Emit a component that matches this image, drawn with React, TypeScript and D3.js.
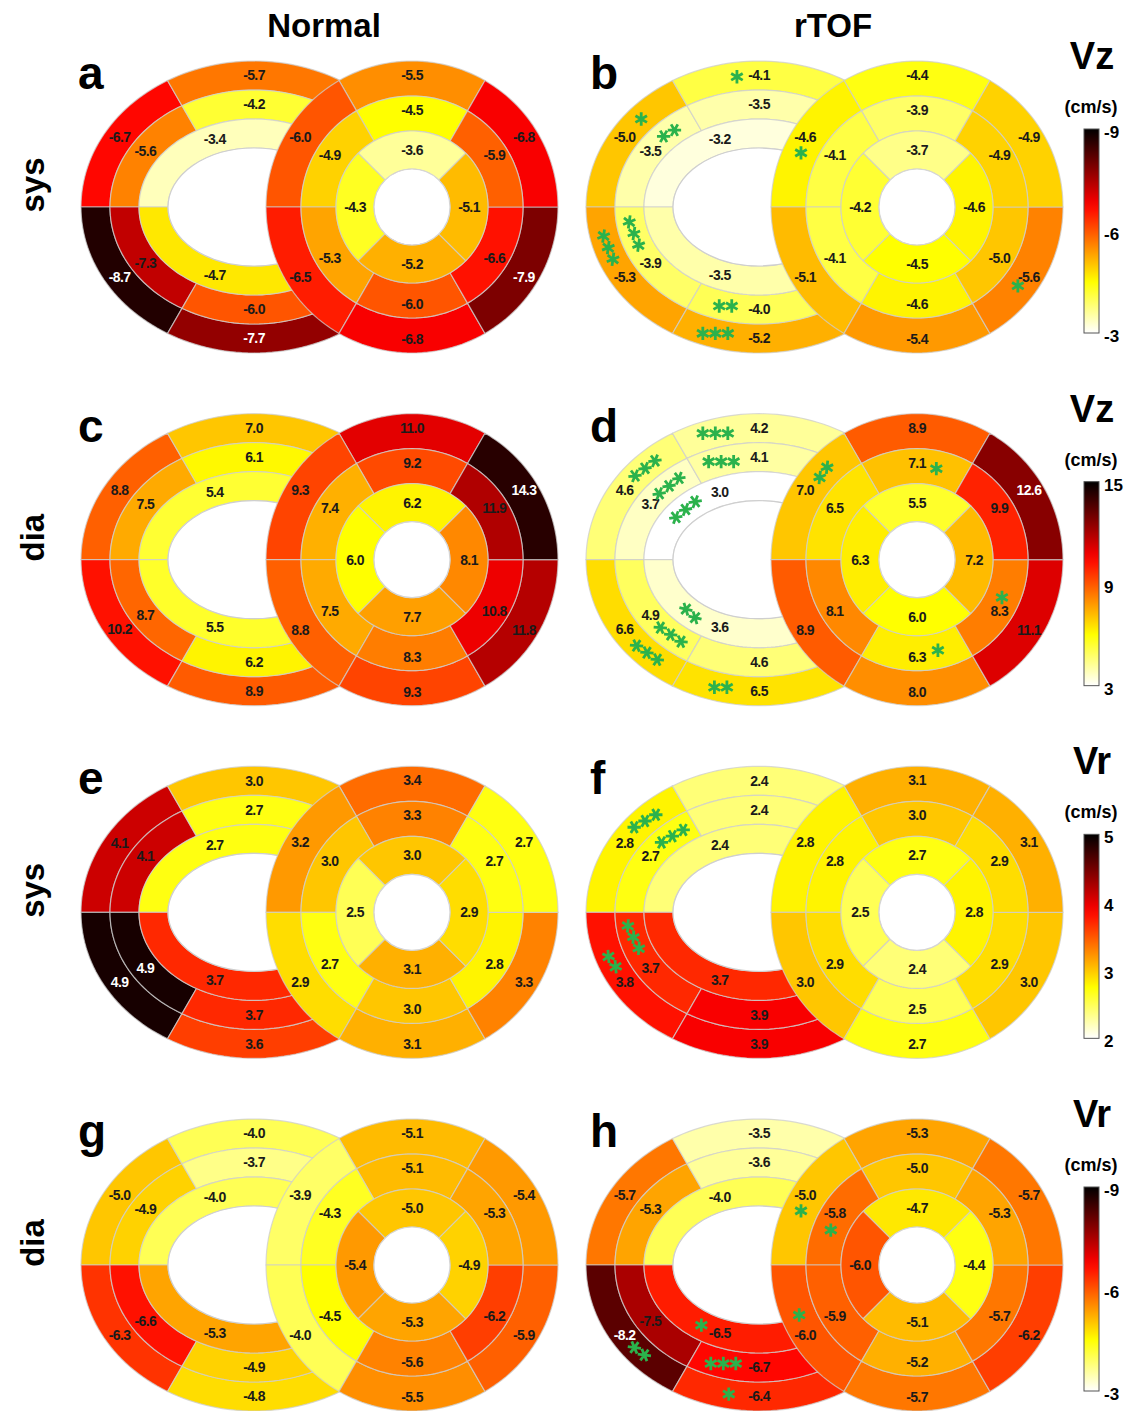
import React from "react";
import * as d3 from "d3";

// RV order: outer top-left, outer top, mid top-left, mid top, inner top,
//           outer bottom-left, outer bottom, mid bottom-left, mid bottom, inner bottom
// LV order: basal top, upper-left, lower-left, bottom, lower-right, upper-right,
//           mid (same six), apical top, left, bottom, right
const aRV = [-6.7, -5.7, -5.6, -4.2, -3.4, -8.7, -7.7, -7.3, -6.0, -4.7];
const aLV = [-5.5, -6.0, -6.5, -6.8, -7.9, -6.8, -4.5, -4.9, -5.3, -6.0, -6.6, -5.9, -3.6, -4.3, -5.2, -5.1];
const bRV = [-5.0, -4.1, -3.5, -3.5, -3.2, -5.3, -5.2, -3.9, -4.0, -3.5];
const bLV = [-4.4, -4.6, -5.1, -5.4, -5.6, -4.9, -3.9, -4.1, -4.1, -4.6, -5.0, -4.9, -3.7, -4.2, -4.5, -4.6];
const cRV = [8.8, 7.0, 7.5, 6.1, 5.4, 10.2, 8.9, 8.7, 6.2, 5.5];
const cLV = [11.0, 9.3, 8.8, 9.3, 11.8, 14.3, 9.2, 7.4, 7.5, 8.3, 10.8, 11.9, 6.2, 6.0, 7.7, 8.1];
const dRV = [4.6, 4.2, 3.7, 4.1, 3.0, 6.6, 6.5, 4.9, 4.6, 3.6];
const dLV = [8.9, 7.0, 8.9, 8.0, 11.1, 12.6, 7.1, 6.5, 8.1, 6.3, 8.3, 9.9, 5.5, 6.3, 6.0, 7.2];
const eRV = [4.1, 3.0, 4.1, 2.7, 2.7, 4.9, 3.6, 4.9, 3.7, 3.7];
const eLV = [3.4, 3.2, 2.9, 3.1, 3.3, 2.7, 3.3, 3.0, 2.7, 3.0, 2.8, 2.7, 3.0, 2.5, 3.1, 2.9];
const fRV = [2.8, 2.4, 2.7, 2.4, 2.4, 3.8, 3.9, 3.7, 3.9, 3.7];
const fLV = [3.1, 2.8, 3.0, 2.7, 3.0, 3.1, 3.0, 2.8, 2.9, 2.5, 2.9, 2.9, 2.7, 2.5, 2.4, 2.8];
const gRV = [-5.0, -4.0, -4.9, -3.7, -4.0, -6.3, -4.8, -6.6, -4.9, -5.3];
const gLV = [-5.1, -3.9, -4.0, -5.5, -5.9, -5.4, -5.1, -4.3, -4.5, -5.6, -6.2, -5.3, -5.0, -5.4, -5.3, -4.9];
const hRV = [-5.7, -3.5, -5.3, -3.6, -4.0, -8.2, -6.4, -7.5, -6.7, -6.5];
const hLV = [-5.3, -5.0, -6.0, -5.7, -6.2, -5.7, -5.0, -5.8, -5.9, -5.2, -5.7, -5.3, -4.7, -6.0, -5.1, -4.4];

// significance asterisks: ring, angle in that ring (deg), how many, tilt of the group
type Star = { ring: string; t: number; n: number; rot: number };
const noStars: Star[] = [];
const bStars: Star[] = [
  { ring: "rvOuter", t: 98, n: 1, rot: 0 },
  { ring: "rvOuter", t: 138, n: 1, rot: 0 },
  { ring: "rvMid", t: 134, n: 2, rot: -30 },
  { ring: "lvBasal", t: 155, n: 1, rot: 0 },
  { ring: "rvOuter", t: -162, n: 3, rot: 68 },
  { ring: "rvMid", t: -165, n: 3, rot: 68 },
  { ring: "rvMid", t: -105, n: 2, rot: 0 },
  { ring: "rvOuter", t: -106, n: 3, rot: 0 },
  { ring: "lvBasal", t: -38, n: 1, rot: 0 },
];
const dStars: Star[] = [
  { ring: "rvOuter", t: 106, n: 3, rot: 0 },
  { ring: "rvMid", t: 107, n: 3, rot: 0 },
  { ring: "rvOuter", t: 136, n: 3, rot: -37 },
  { ring: "rvMid", t: 134, n: 3, rot: -38 },
  { ring: "rvInner", t: 137, n: 3, rot: -39 },
  { ring: "lvBasal", t: 137, n: 2, rot: -54 },
  { ring: "lvMid", t: 78, n: 1, rot: 0 },
  { ring: "lvMid", t: -24, n: 1, rot: 0 },
  { ring: "lvMid", t: -77, n: 1, rot: 0 },
  { ring: "rvInner", t: -133, n: 2, rot: 43 },
  { ring: "rvMid", t: -133, n: 3, rot: 34 },
  { ring: "rvOuter", t: -135, n: 3, rot: 34 },
  { ring: "rvOuter", t: -104, n: 2, rot: 0 },
];
const fStars: Star[] = [
  { ring: "rvOuter", t: 136, n: 3, rot: -30 },
  { ring: "rvMid", t: 132, n: 3, rot: -30 },
  { ring: "rvMid", t: -166, n: 3, rot: 64 },
  { ring: "rvOuter", t: -158, n: 2, rot: 55 },
];
const hStars: Star[] = [
  { ring: "lvBasal", t: 155, n: 1, rot: 0 },
  { ring: "lvMid", t: 158, n: 1, rot: 0 },
  { ring: "lvBasal", t: 203, n: 1, rot: 0 },
  { ring: "rvInner", t: -125, n: 1, rot: 0 },
  { ring: "rvMid", t: -106, n: 3, rot: 0 },
  { ring: "rvOuter", t: -101, n: 1, rot: 0 },
  { ring: "rvOuter", t: -139, n: 2, rot: 37 },
];

const columns = ["Normal", "rTOF"];
const rowPhase = ["sys", "dia", "sys", "dia"];
const rowComp = ["Vz", "Vz", "Vr", "Vr"];
const rowDomain: [number, number][] = [[-3, -9], [3, 15], [2, 5], [-3, -9]];
const rowTicks = [[-9, -6, -3], [15, 9, 3], [5, 4, 3, 2], [-9, -6, -3]];

const panels = [
  { id: "a", row: 0, col: 0, rv: aRV, lv: aLV, stars: noStars },
  { id: "b", row: 0, col: 1, rv: bRV, lv: bLV, stars: bStars },
  { id: "c", row: 1, col: 0, rv: cRV, lv: cLV, stars: noStars },
  { id: "d", row: 1, col: 1, rv: dRV, lv: dLV, stars: dStars },
  { id: "e", row: 2, col: 0, rv: eRV, lv: eLV, stars: noStars },
  { id: "f", row: 2, col: 1, rv: fRV, lv: fLV, stars: fStars },
  { id: "g", row: 3, col: 0, rv: gRV, lv: gLV, stars: noStars },
  { id: "h", row: 3, col: 1, rv: hRV, lv: hLV, stars: hStars },
];

const W = 1141;
const H = 1411;
const FONT = "'Liberation Sans', Arial, Helvetica, sans-serif";
const rowY = d3.scaleLinear().domain([0, 3]).range([207, 1265]);
const colX = d3.scaleLinear().domain([0, 1]).range([412, 917]); // LV centre
const RV_SHIFT = 158;
const RV_R: [number, number][] = [[173, 146], [144, 117], [115, 88], [86, 59]];
const LV_R = [146, 111, 76, 38];
const LV_LABEL_R = [132, 97, 57];

const RV_SEG = [
  { ring: 0, t0: 120, t1: 180, lt: 148 },
  { ring: 0, t0: 0, t1: 120, lt: 90 },
  { ring: 1, t0: 120, t1: 180, lt: 147 },
  { ring: 1, t0: 0, t1: 120, lt: 90 },
  { ring: 2, t0: 0, t1: 180, lt: 113 },
  { ring: 0, t0: 180, t1: 240, lt: 212 },
  { ring: 0, t0: 240, t1: 360, lt: 270 },
  { ring: 1, t0: 180, t1: 240, lt: 213 },
  { ring: 1, t0: 240, t1: 360, lt: 270 },
  { ring: 2, t0: 180, t1: 360, lt: 247 },
];

const six = [90, 150, 210, 270, 330, 30];
const sixLabel = [90, 148, 212, 270, 328, 32];
const LV_SEG = [
  ...six.map((c, i) => ({ ring: 0, t0: c - 30, t1: c + 30, lt: sixLabel[i] })),
  ...six.map((c, i) => ({ ring: 1, t0: c - 30, t1: c + 30, lt: sixLabel[i] })),
  ...[90, 180, 270, 0].map((c) => ({ ring: 2, t0: c - 45, t1: c + 45, lt: c })),
];

const rad = (d: number) => (d * Math.PI) / 180;

function hot(t: number) {
  const u = 1 - Math.max(0, Math.min(1, t));
  const r = Math.min(1, u / 0.375);
  const g = Math.max(0, Math.min(1, (u - 0.375) / 0.375));
  const b = Math.max(0, Math.min(1, (u - 0.75) / 0.25));
  return d3.rgb(r * 255, g * 255, b * 255).formatHex();
}

const line = d3.line().curve(d3.curveLinearClosed);

function sector(cx: number, cy: number, inner: [number, number], outer: [number, number], t0: number, t1: number) {
  const steps = Math.max(6, Math.ceil(Math.abs(t1 - t0) / 2));
  const ts = d3.range(steps + 1).map((i) => t0 + ((t1 - t0) * i) / steps);
  const out = ts.map((t) => [cx + outer[0] * Math.cos(rad(t)), cy - outer[1] * Math.sin(rad(t))] as [number, number]);
  const inn = ts
    .slice()
    .reverse()
    .map((t) => [cx + inner[0] * Math.cos(rad(t)), cy - inner[1] * Math.sin(rad(t))] as [number, number]);
  return line([...out, ...inn]) as string;
}

function ringPoint(ring: string, t: number, lvx: number, cy: number): [number, number] {
  const c = Math.cos(rad(t));
  const s = Math.sin(rad(t));
  if (ring.startsWith("lv")) {
    const r = ring === "lvBasal" ? 128 : ring === "lvMid" ? 93 : 57;
    return [lvx + r * c, cy - r * s];
  }
  const k = ring === "rvOuter" ? 0 : ring === "rvMid" ? 1 : 2;
  const a = (RV_R[k][0] + RV_R[k + 1][0]) / 2;
  const b = (RV_R[k][1] + RV_R[k + 1][1]) / 2;
  return [lvx - RV_SHIFT + a * c, cy - b * s];
}

const symbolAst = (d3 as any).symbolAsterisk ?? d3.symbolCross;
const starPath = d3.symbol(symbolAst, 125)() as string;
const STROKE = "rgba(205,205,205,0.75)";

function Panel({ p }: { p: (typeof panels)[number] }) {
  const cy = rowY(p.row);
  const lvx = colX(p.col);
  const rvx = lvx - RV_SHIFT;
  const tScale = d3.scaleLinear().domain(rowDomain[p.row]).range([0, 1]).clamp(true);
  const fmt = (v: number) => v.toFixed(1);
  const txt = (v: number) => (tScale(v) > 0.76 ? "#ffffff" : "#1a1a1a");

  const rvLabels = RV_SEG.map((s, i) => {
    const a = (RV_R[s.ring][0] + RV_R[s.ring + 1][0]) / 2;
    const b = (RV_R[s.ring][1] + RV_R[s.ring + 1][1]) / 2;
    return { x: rvx + a * Math.cos(rad(s.lt)), y: cy - b * Math.sin(rad(s.lt)), v: p.rv[i] };
  });
  const lvLabels = LV_SEG.map((s, i) => {
    const r = LV_LABEL_R[s.ring];
    return { x: lvx + r * Math.cos(rad(s.lt)), y: cy - r * Math.sin(rad(s.lt)), v: p.lv[i] };
  });

  return (
    <g>
      {RV_SEG.map((s, i) => (
        <path
          key={"rv" + i}
          d={sector(rvx, cy, RV_R[s.ring + 1], RV_R[s.ring], s.t0, s.t1)}
          fill={hot(tScale(p.rv[i]))}
          stroke={STROKE}
          strokeWidth={1.2}
        />
      ))}
      <ellipse cx={rvx} cy={cy} rx={RV_R[3][0]} ry={RV_R[3][1]} fill="#ffffff" stroke="#cfcfcf" strokeWidth={1.2} />
      {LV_SEG.map((s, i) => (
        <path
          key={"lv" + i}
          d={sector(lvx, cy, [LV_R[s.ring + 1], LV_R[s.ring + 1]], [LV_R[s.ring], LV_R[s.ring]], s.t0, s.t1)}
          fill={hot(tScale(p.lv[i]))}
          stroke={STROKE}
          strokeWidth={1.2}
        />
      ))}
      <circle cx={lvx} cy={cy} r={LV_R[3]} fill="#ffffff" stroke="#d5d5d5" strokeWidth={1.2} />
      {[...rvLabels, ...lvLabels].map((l, i) => (
        <text
          key={"t" + i}
          x={l.x}
          y={l.y}
          dy="0.35em"
          textAnchor="middle"
          fontFamily={FONT}
          fontWeight="bold"
          fontSize={14}
          letterSpacing={-0.6}
          fill={txt(l.v)}
        >
          {fmt(l.v)}
        </text>
      ))}
      {p.stars.map((s, i) => {
        const [x, y] = ringPoint(s.ring, s.t, lvx, cy);
        return (
          <g key={"s" + i} transform={`translate(${x},${y}) rotate(${s.rot})`}>
            {d3.range(s.n).map((k) => (
              <path
                key={k}
                d={starPath}
                transform={`translate(${(k - (s.n - 1) / 2) * 12.5},0)`}
                fill="none"
                stroke="#2bb24c"
                strokeWidth={2.8}
              />
            ))}
          </g>
        );
      })}
      <text
        x={p.col === 0 ? 78 : 590}
        y={cy - 118}
        fontFamily={FONT}
        fontWeight="bold"
        fontSize={46}
        fill="#000"
      >
        {p.id}
      </text>
    </g>
  );
}

function ColorBar({ row }: { row: number }) {
  const cy = rowY(row);
  const top = cy - 78;
  const bottom = cy + 126;
  const x0 = 1084;
  const bw = 15;
  const y = d3.scaleLinear().domain(rowDomain[row]).range([bottom, top]);
  const stops = d3.range(0, 1.0001, 0.05);
  const gid = "cb" + row;
  return (
    <g>
      <defs>
        <linearGradient id={gid} x1="0" y1="1" x2="0" y2="0">
          {stops.map((t) => (
            <stop key={t} offset={t} stopColor={hot(t)} />
          ))}
        </linearGradient>
      </defs>
      <text x={x0 + 8} y={cy - 138} textAnchor="middle" fontFamily={FONT} fontWeight="bold" fontSize={38}>
        {rowComp[row]}
      </text>
      <text x={x0 + 7} y={cy - 94} textAnchor="middle" fontFamily={FONT} fontWeight="bold" fontSize={18}>
        (cm/s)
      </text>
      <rect x={x0} y={top} width={bw} height={bottom - top} fill={`url(#${gid})`} stroke="#555" strokeWidth={1} />
      {rowTicks[row].map((v) => (
        <text key={v} x={x0 + bw + 5} y={y(v) + 3} dy="0.35em" fontFamily={FONT} fontWeight="bold" fontSize={17}>
          {v}
        </text>
      ))}
    </g>
  );
}

export default function App() {
  return (
    <svg
      width={W}
      height={H}
      viewBox={`0 0 ${W} ${H}`}
      style={{ position: "absolute", left: 0, top: 0, background: "#fff" }}
    >
      {columns.map((c, i) => (
        <text
          key={c}
          x={i === 0 ? 324 : 833}
          y={37}
          textAnchor="middle"
          fontFamily={FONT}
          fontWeight="bold"
          fontSize={33}
        >
          {c}
        </text>
      ))}
      {rowPhase.map((r, i) => (
        <text
          key={i}
          transform={`translate(44,${rowY(i) - 22}) rotate(-90)`}
          textAnchor="middle"
          fontFamily={FONT}
          fontWeight="bold"
          fontSize={33}
        >
          {r}
        </text>
      ))}
      {panels.map((p) => (
        <Panel key={p.id} p={p} />
      ))}
      {[0, 1, 2, 3].map((r) => (
        <ColorBar key={r} row={r} />
      ))}
    </svg>
  );
}
